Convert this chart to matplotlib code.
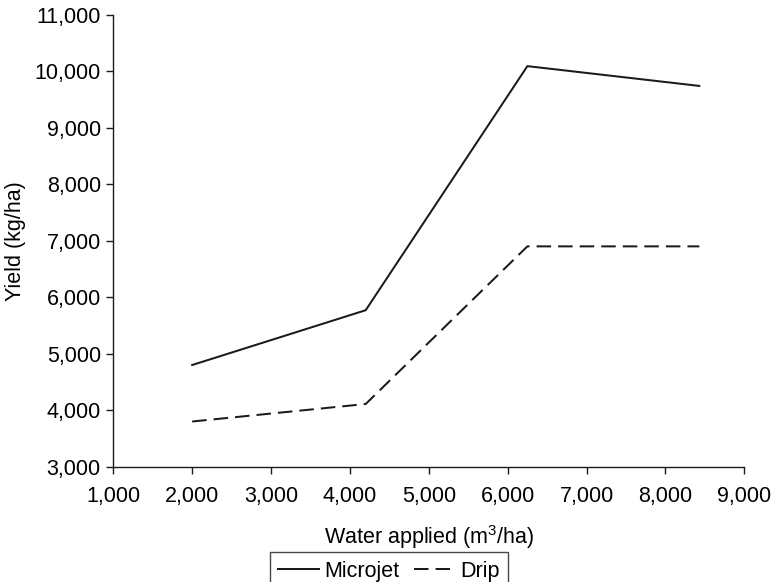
import matplotlib
matplotlib.use("Agg")
import matplotlib.pyplot as plt

water = [2000, 4200, 6250, 8430]
microjet = [4800, 5770, 10090, 9740]
drip = [3800, 4110, 6900, 6900]

xticks = list(range(1000, 9001, 1000))
yticks = list(range(3000, 11001, 1000))

plt.rcParams['font.family'] = ['Liberation Sans', 'DejaVu Sans']
plt.rcParams['mathtext.default'] = 'regular'
plt.rcParams['font.size'] = 15.5

fig = plt.figure(figsize=(7.74, 5.82), dpi=100)
ax = fig.add_axes([0.1464, 0.1981, 0.8152, 0.7766])

ax.plot(water, microjet, color='#1a1a1a', lw=1.45, label='Microjet')
ax.plot(water, drip, color='#1a1a1a', lw=1.45, dashes=(7.2, 3.5), label='Drip')

ax.set_xlim(1000, 9000)
ax.set_ylim(3000, 11000)
ax.set_xticks(xticks)
ax.set_yticks(yticks)
ax.set_xticklabels([f"{v:,}" for v in xticks])
ax.set_yticklabels([f"{v:,}" for v in yticks])

for s in ['top', 'right']:
    ax.spines[s].set_visible(False)
for s in ['left', 'bottom']:
    ax.spines[s].set_linewidth(1.0)
    ax.spines[s].set_color('#1a1a1a')
ax.tick_params(axis='both', direction='out', length=5, width=1.0, color='#1a1a1a')
ax.tick_params(axis='y', pad=4)
ax.tick_params(axis='x', pad=9)

ax.set_xlabel('Water applied (m$^3$/ha)')
ax.set_ylabel('Yield (kg/ha)')
ax.xaxis.set_label_coords(0.5, -0.125)
ax.yaxis.set_label_coords(-0.138, 0.5)

leg = fig.legend(loc='upper center', bbox_to_anchor=(389 / 774, 1 - 552 / 582),
                 ncol=2, frameon=True, fancybox=False, handlelength=1.9,
                 handletextpad=0.25, columnspacing=0.66, borderpad=0.4,
                 borderaxespad=0)
leg.get_frame().set_edgecolor('#1a1a1a')
leg.get_frame().set_linewidth(1.0)

fig.savefig('out.png', dpi=100)
